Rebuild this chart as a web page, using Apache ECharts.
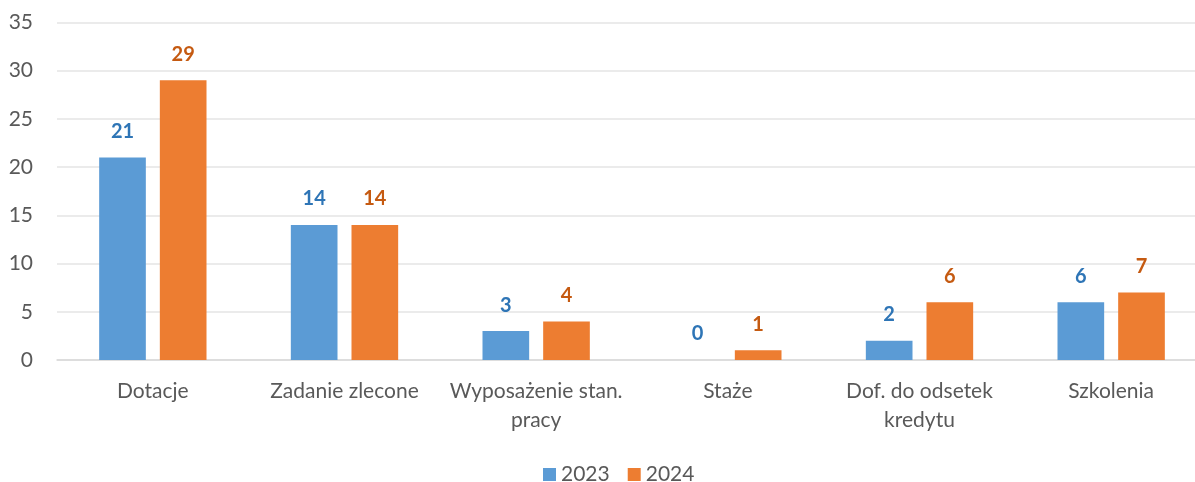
<!DOCTYPE html>
<html>
<head>
<meta charset="utf-8">
<script src="https://cdn.jsdelivr.net/npm/echarts@6/dist/echarts.min.js"></script>
<style>
  html, body { margin: 0; padding: 0; background: #fff; overflow: hidden; }
  #wrap { width: 1195px; height: 482px; overflow: hidden; }
  /* the plot area runs slightly past the visible right edge */
  #chart { width: 1207px; height: 482px; }
</style>
</head>
<body>
<div id="wrap"><div id="chart"></div></div>
<script>
const categories = ['Dotacje', 'Zadanie zlecone', 'Wyposażenie stan.\npracy', 'Staże', 'Dof. do odsetek\nkredytu', 'Szkolenia'];
const values2023 = [21, 14, 3, 0, 2, 6];
const values2024 = [29, 14, 4, 1, 6, 7];
const seriesNames = ['2023', '2024'];

const FONT = 'Lato, "Open Sans", sans-serif';

const chart = echarts.init(document.getElementById('chart'));
chart.setOption({
  animation: false,
  textStyle: { fontFamily: FONT },
  grid: { left: 57, right: 0, top: 22.5, bottom: 122, containLabel: false },
  legend: {
    data: seriesNames,
    top: 459,
    left: 538,
    itemWidth: 13,
    itemHeight: 13,
    itemGap: 18,
    icon: 'rect',
    textStyle: { fontSize: 21, color: '#595959', fontFamily: FONT }
  },
  xAxis: {
    type: 'category',
    data: categories,
    axisLine: { lineStyle: { color: '#d9d9d9', width: 1.5 } },
    axisTick: { show: false },
    axisLabel: { fontSize: 21, color: '#595959', lineHeight: 29, margin: 17, interval: 0, fontFamily: FONT }
  },
  yAxis: {
    type: 'value',
    min: 0,
    max: 35,
    interval: 5,
    axisLine: { show: false },
    axisTick: { show: false },
    splitLine: { lineStyle: { color: '#e4e4e4', width: 1.5 } },
    axisLabel: { fontSize: 21, color: '#595959', margin: 24, fontFamily: FONT }
  },
  series: [
    {
      name: seriesNames[0],
      type: 'bar',
      data: values2023,
      barGap: '30%',
      barCategoryGap: '44%',
      itemStyle: { color: '#5B9BD5' },
      label: { show: true, position: 'top', distance: 16, fontSize: 20, fontWeight: 'bold', color: '#2E75B6', fontFamily: FONT }
    },
    {
      name: seriesNames[1],
      type: 'bar',
      data: values2024,
      itemStyle: { color: '#ED7D31' },
      label: { show: true, position: 'top', distance: 16, fontSize: 20, fontWeight: 'bold', color: '#C55A11', fontFamily: FONT }
    }
  ]
});
</script>
</body>
</html>
